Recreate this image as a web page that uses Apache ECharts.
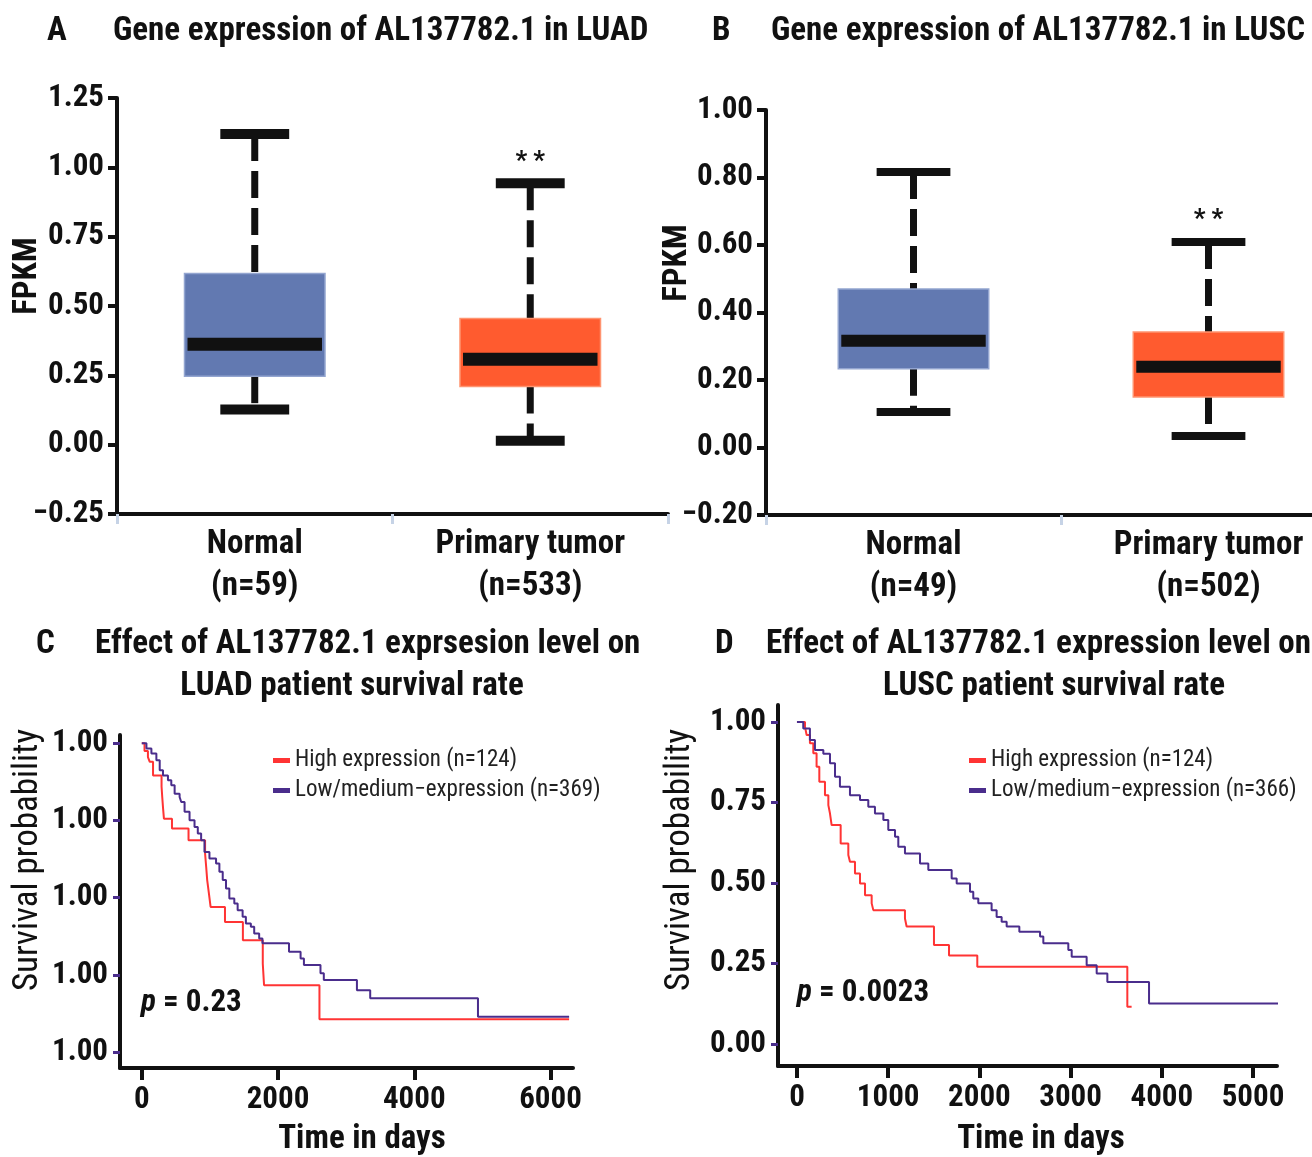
<!DOCTYPE html>
<html>
<head>
<meta charset="utf-8">
<script src="https://cdn.jsdelivr.net/npm/echarts@6/dist/echarts.min.js"></script>
<style>
  html, body { margin: 0; padding: 0; background: #fff; }
  #main { width: 1312px; height: 1157px; }
</style>
</head>
<body>
<div id="main"></div>
<script>
// box plots: [min, Q1, median, Q3, max]
const luadCategories = ['Normal\n(n=59)', 'Primary tumor\n(n=533)']
const luadBox = [[0.127, 0.247, 0.362, 0.617, 1.12], [0.014, 0.21, 0.308, 0.455, 0.943]]
const luscCategories = ['Normal\n(n=49)', 'Primary tumor\n(n=502)']
const luscBox = [[0.105, 0.233, 0.316, 0.47, 0.816], [0.034, 0.15, 0.239, 0.342, 0.609]]
const signif = ['', '* *']
const luadYLabels = ['\u22120.25', '0.00', '0.25', '0.50', '0.75', '1.00', '1.25']
const luscYLabels = ['\u22120.20', '0.00', '0.20', '0.40', '0.60', '0.80', '1.00']

// survival curves (step at each time)
const luadHighT = [0, 40, 90, 117, 165, 290, 300, 312, 325, 443, 686, 929, 945, 960, 985, 1010, 1221, 1484, 1776, 1795, 2608, 6273]
const luadHighS = [1, 0.975, 0.955, 0.94, 0.896, 0.86, 0.826, 0.79, 0.756, 0.724, 0.686, 0.643, 0.6, 0.557, 0.514, 0.47, 0.421, 0.362, 0.286, 0.216, 0.106, 0.106]
const luadLowT = [0, 68, 141, 214, 263, 311, 384, 433, 482, 555, 579, 628, 701, 774, 822, 871, 920, 993, 1090, 1139, 1188, 1236, 1285, 1358, 1407, 1480, 1528, 1601, 1650, 1723, 1771, 2161, 2331, 2380, 2623, 2672, 3158, 3353, 4935, 6273]
const luadLowS = [1, 0.983, 0.967, 0.945, 0.913, 0.896, 0.88, 0.864, 0.837, 0.826, 0.81, 0.778, 0.751, 0.729, 0.708, 0.686, 0.648, 0.627, 0.611, 0.584, 0.557, 0.53, 0.497, 0.481, 0.459, 0.438, 0.416, 0.406, 0.384, 0.368, 0.352, 0.325, 0.303, 0.282, 0.255, 0.233, 0.2, 0.174, 0.114, 0.114]
const luscHighT = [0, 88, 106, 142, 179, 215, 245, 307, 344, 362, 380, 479, 563, 581, 636, 691, 746, 819, 837, 1184, 1202, 1502, 1667, 1977, 3622, 3669]
const luscHighS = [1, 0.985, 0.96, 0.934, 0.903, 0.861, 0.815, 0.773, 0.742, 0.716, 0.68, 0.623, 0.587, 0.566, 0.53, 0.499, 0.462, 0.437, 0.416, 0.39, 0.365, 0.308, 0.275, 0.24, 0.116, 0.116]
const luscLowT = [0, 69, 142, 197, 289, 362, 417, 471, 581, 691, 782, 855, 947, 1001, 1075, 1111, 1184, 1349, 1440, 1696, 1751, 1897, 1933, 1988, 2134, 2189, 2244, 2299, 2438, 2665, 2701, 2975, 3012, 3176, 3286, 3403, 3860, 5278]
const luscLowS = [1, 0.98, 0.944, 0.913, 0.902, 0.872, 0.83, 0.799, 0.773, 0.758, 0.737, 0.716, 0.696, 0.665, 0.644, 0.613, 0.592, 0.561, 0.541, 0.514, 0.499, 0.473, 0.452, 0.437, 0.416, 0.395, 0.38, 0.365, 0.349, 0.334, 0.313, 0.292, 0.271, 0.245, 0.219, 0.193, 0.126, 0.126]
const survivalYTicks = [0, 0.25, 0.5, 0.75, 1]
const luadSurvYLabels = ['1.00', '1.00', '1.00', '1.00', '1.00']
const luscSurvYLabels = ['0.00', '0.25', '0.50', '0.75', '1.00']
const luadXTicks = [0, 2000, 4000, 6000]
const luscXTicks = [0, 1000, 2000, 3000, 4000, 5000]

const FONT = '"Liberation Sans Narrow", "Arial Narrow", "Roboto Condensed", "DejaVu Sans Condensed", sans-serif'
const BOX_COLORS = ['#6279b1', '#ff5b2f']
const BOX_BORDERS = ['#93a5d0', '#ff9470']
const RED = '#ff3434'
const PURPLE = '#4a2d8c'

const zip = (t, s) => t.map((v, i) => [v, s[i]])

function boxRender (capH, medH) {
  return function (params, api) {
    const i = api.value(0)
    const band = api.size([1, 0])[0]
    const lo = api.coord([i, api.value(1)])
    const q1 = api.coord([i, api.value(2)])
    const med = api.coord([i, api.value(3)])
    const q3 = api.coord([i, api.value(4)])
    const hi = api.coord([i, api.value(5)])
    const cx = lo[0]
    const bw = band * 0.51
    const cw = band * 0.25
    const dash = { stroke: '#111', lineWidth: 7, lineDash: [27, 10] }
    return {
      type: 'group',
      children: [
        { type: 'line', shape: { x1: cx, y1: hi[1], x2: cx, y2: q3[1] }, style: dash },
        { type: 'line', shape: { x1: cx, y1: q1[1], x2: cx, y2: lo[1] }, style: dash },
        { type: 'rect', shape: { x: cx - cw / 2, y: hi[1] - capH / 2, width: cw, height: capH }, style: { fill: '#111' } },
        { type: 'rect', shape: { x: cx - cw / 2, y: lo[1] - capH / 2, width: cw, height: capH }, style: { fill: '#111' } },
        { type: 'rect', shape: { x: cx - bw / 2, y: q3[1], width: bw, height: q1[1] - q3[1] }, style: { fill: BOX_COLORS[i], stroke: BOX_BORDERS[i], lineWidth: 1.5 } },
        { type: 'rect', shape: { x: cx - bw / 2 + 3, y: med[1] - medH / 2, width: bw - 6, height: medH }, style: { fill: '#111' } },
        { type: 'text', x: cx, y: hi[1] - 8, style: { text: signif[i], fontFamily: FONT, fontSize: 26, fontWeight: 'bold', fill: '#111', align: 'center', verticalAlign: 'bottom' } }
      ]
    }
  }
}

function boxXAxis (idx, cats) {
  return {
    type: 'category', gridIndex: idx, data: cats,
    axisLine: { onZero: false, lineStyle: { color: '#111', width: 4 } },
    axisTick: { show: true, length: 10, lineStyle: { color: '#c6d3e6', width: 3 } },
    axisLabel: { fontFamily: FONT, fontSize: 33, fontWeight: 'bold', color: '#111', lineHeight: 42, margin: 10 }
  }
}

function boxYAxis (idx, min, max, step, labels) {
  return {
    type: 'value', gridIndex: idx, min: min, max: max, interval: step,
    splitLine: { show: false },
    axisLine: { show: true, onZero: false, lineStyle: { color: '#111', width: 4 } },
    axisTick: { show: true, length: 9, lineStyle: { color: '#111', width: 4 } },
    axisLabel: { fontFamily: FONT, fontSize: 31, fontWeight: 'bold', color: '#111', margin: 13, formatter: (v, i) => labels[i] }
  }
}

function survXAxis (idx, min, max, ticks) {
  return {
    type: 'value', gridIndex: idx, min: min, max: max,
    splitLine: { show: false },
    axisLine: { onZero: false, lineStyle: { color: '#111', width: 4 } },
    axisTick: { show: true, length: 12, customValues: ticks, lineStyle: { color: '#111', width: 4 } },
    axisLabel: { customValues: ticks, fontFamily: FONT, fontSize: 31, fontWeight: 'bold', color: '#111', margin: 17, formatter: (v) => String(v) }
  }
}

function survYAxis (idx, min, max, labels) {
  return {
    type: 'value', gridIndex: idx, min: min, max: max,
    splitLine: { show: false },
    axisLine: { show: true, onZero: false, lineStyle: { color: '#111', width: 4 } },
    axisTick: { show: true, length: 7, customValues: survivalYTicks, lineStyle: { color: PURPLE, width: 3 } },
    axisLabel: { customValues: survivalYTicks, fontFamily: FONT, fontSize: 31, fontWeight: 'bold', color: '#111', margin: 12, formatter: (v) => labels[survivalYTicks.indexOf(v)] }
  }
}

function survLine (name, t, s, color, idx) {
  return {
    name: name, type: 'line', step: 'end', xAxisIndex: idx, yAxisIndex: idx,
    data: zip(t, s), showSymbol: false, symbol: 'none', color: color,
    lineStyle: { color: color, width: 2 }, animation: false
  }
}

const titleStyle = { fontFamily: FONT, fontSize: 33, fontWeight: 'bold', color: '#111' }
const nameStyle = { fontFamily: FONT, fontSize: 33, fontWeight: 'bold', fill: '#111' }
const pStyle = { verticalAlign: 'middle', fontFamily: FONT, fontSize: 31, fontWeight: 'bold', fill: '#111', rich: { i: { fontStyle: 'italic', fontFamily: FONT, fontSize: 31, fontWeight: 'bold' } } }

const chart = echarts.init(document.getElementById('main'), null, { renderer: 'canvas' })
chart.setOption({
  backgroundColor: '#fff',
  animation: false,
  title: [
    { text: 'A', left: 42, top: 10, textStyle: titleStyle },
    { text: 'Gene expression of AL137782.1 in LUAD', left: 108, top: 10, textStyle: titleStyle },
    { text: 'B', left: 707, top: 10, textStyle: titleStyle },
    { text: 'Gene expression of AL137782.1 in LUSC', left: 766, top: 10, textStyle: titleStyle },
    { text: 'C', left: 31, top: 623, textStyle: titleStyle },
    { text: 'Effect of AL137782.1 exprsesion level on', left: 90, top: 623, textStyle: titleStyle },
    { text: 'LUAD patient survival rate', left: 347, textAlign: 'center', top: 665, textStyle: titleStyle },
    { text: 'D', left: 710, top: 623, textStyle: titleStyle },
    { text: 'Effect of AL137782.1 expression level on', left: 761, top: 623, textStyle: titleStyle },
    { text: 'LUSC patient survival rate', left: 1049, textAlign: 'center', top: 665, textStyle: titleStyle }
  ],
  legend: [
    {
      data: ['High expression (n=124)', 'Low/medium\u2212expression (n=369)'],
      orient: 'vertical', left: 268, top: 744, itemWidth: 17, itemHeight: 5, itemGap: 7, icon: 'rect',
      textStyle: { fontFamily: FONT, fontSize: 23, color: '#222' }
    },
    {
      data: ['High expression (n=124) ', 'Low/medium\u2212expression (n=366)'],
      orient: 'vertical', left: 964, top: 744, itemWidth: 17, itemHeight: 5, itemGap: 7, icon: 'rect',
      formatter: (n) => n.trim(),
      textStyle: { fontFamily: FONT, fontSize: 23, color: '#222' }
    }
  ],
  grid: [
    { left: 117, top: 98, width: 551, height: 416, outerBoundsMode: 'none' },
    { left: 766, top: 110, width: 590, height: 405, outerBoundsMode: 'none' },
    { left: 120, top: 735, width: 453, height: 333, outerBoundsMode: 'none' },
    { left: 778, top: 705, width: 499, height: 361, outerBoundsMode: 'none' }
  ],
  xAxis: [
    boxXAxis(0, luadCategories),
    boxXAxis(1, luscCategories),
    survXAxis(2, -320, 6330, luadXTicks),
    survXAxis(3, -208, 5263, luscXTicks)
  ],
  yAxis: [
    boxYAxis(0, -0.25, 1.25, 0.25, luadYLabels),
    boxYAxis(1, -0.2, 1.0, 0.2, luscYLabels),
    survYAxis(2, -0.052, 1.027, luadSurvYLabels),
    survYAxis(3, -0.068, 1.053, luscSurvYLabels)
  ],
  graphic: [
    { type: 'text', x: 28, y: 276, rotation: Math.PI / 2, style: Object.assign({ text: 'FPKM', align: 'center', verticalAlign: 'middle' }, nameStyle) },
    { type: 'text', x: 678, y: 263, rotation: Math.PI / 2, style: Object.assign({ text: 'FPKM', align: 'center', verticalAlign: 'middle' }, nameStyle) },
    { type: 'text', x: 28, y: 860, rotation: Math.PI / 2, style: { text: 'Survival probability', align: 'center', verticalAlign: 'middle', fontFamily: FONT, fontSize: 35, fill: '#111' } },
    { type: 'text', x: 680, y: 860, rotation: Math.PI / 2, style: { text: 'Survival probability', align: 'center', verticalAlign: 'middle', fontFamily: FONT, fontSize: 35, fill: '#111' } },
    { type: 'text', x: 362, y: 1140, style: Object.assign({ text: 'Time in days', align: 'center', verticalAlign: 'middle' }, nameStyle) },
    { type: 'text', x: 1041, y: 1140, style: Object.assign({ text: 'Time in days', align: 'center', verticalAlign: 'middle' }, nameStyle) },
    { type: 'text', x: 141, y: 1003, style: Object.assign({ text: '{i|p} = 0.23' }, pStyle) },
    { type: 'text', x: 797, y: 993, style: Object.assign({ text: '{i|p} = 0.0023' }, pStyle) }
  ],
  series: [
    {
      type: 'custom', xAxisIndex: 0, yAxisIndex: 0,
      renderItem: boxRender(10, 13),
      encode: { x: 0, y: [1, 2, 3, 4, 5] },
      data: luadBox.map((b, i) => [i].concat(b))
    },
    {
      type: 'custom', xAxisIndex: 1, yAxisIndex: 1,
      renderItem: boxRender(8, 12),
      encode: { x: 0, y: [1, 2, 3, 4, 5] },
      data: luscBox.map((b, i) => [i].concat(b))
    },
    survLine('High expression (n=124)', luadHighT, luadHighS, RED, 2),
    survLine('Low/medium\u2212expression (n=369)', luadLowT, luadLowS, PURPLE, 2),
    survLine('High expression (n=124) ', luscHighT, luscHighS, RED, 3),
    survLine('Low/medium\u2212expression (n=366)', luscLowT, luscLowS, PURPLE, 3)
  ]
})
</script>
</body>
</html>
